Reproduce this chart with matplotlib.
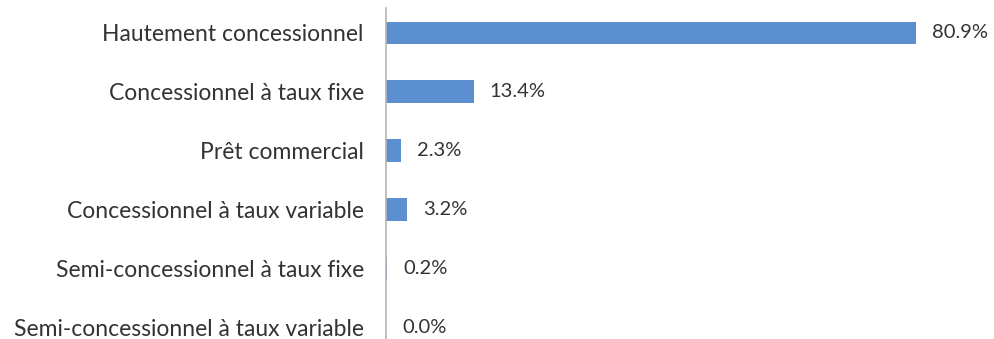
import matplotlib
matplotlib.use("Agg")
import matplotlib.pyplot as plt

categories = [
    "Hautement concessionnel",
    "Concessionnel à taux fixe",
    "Prêt commercial",
    "Concessionnel à taux variable",
    "Semi-concessionnel à taux fixe",
    "Semi-concessionnel à taux variable",
]
values = [80.9, 13.4, 2.3, 3.2, 0.2, 0.0]
value_labels = ["80.9%", "13.4%", "2.3%", "3.2%", "0.2%", "0.0%"]

plt.rcParams['font.family'] = ['Lato', 'DejaVu Sans']
W, H = 994, 339
fig = plt.figure(figsize=(W / 100, H / 100), dpi=100)
ax = fig.add_axes([386 / W, 0, 1 - 386 / W, 1 - 8 / H])

text_color = '#333333'
y = list(range(len(categories)))
ax.barh(y, values, height=0.38, color='#5b8fd0')
ax.set_ylim(5.2, -0.42)
ax.set_xlim(0, 92.8)
ax.set_yticks(y)
ax.set_yticklabels(categories, fontsize=16.5, color=text_color)
ax.tick_params(axis='y', length=0, pad=16)
ax.set_xticks([])
for s in ['top', 'right', 'bottom']:
    ax.spines[s].set_visible(False)
ax.spines['left'].set_color('#b5b5b5')
ax.spines['left'].set_linewidth(1.2)

for yi, v, lab in zip(y, values, value_labels):
    ax.annotate(lab, xy=(v, yi), xytext=(16, 0), textcoords='offset pixels',
                va='center', ha='left', fontsize=14.5, color=text_color)

fig.savefig('out.png', dpi=100)
